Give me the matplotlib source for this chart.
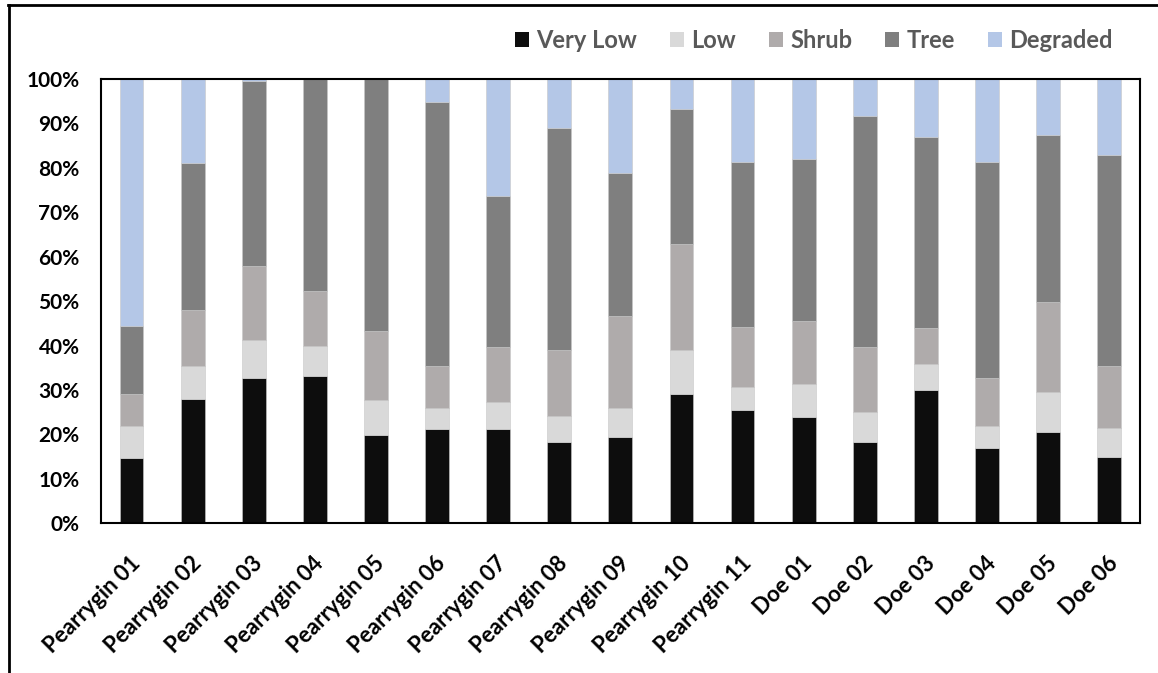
import numpy as np
import matplotlib.pyplot as plt
import matplotlib.transforms as mtransforms
from matplotlib.lines import Line2D
from matplotlib.patches import Patch

sites = ['Pearrygin 01', 'Pearrygin 02', 'Pearrygin 03', 'Pearrygin 04', 'Pearrygin 05',
         'Pearrygin 06', 'Pearrygin 07', 'Pearrygin 08', 'Pearrygin 09', 'Pearrygin 10',
         'Pearrygin 11', 'Doe 01', 'Doe 02', 'Doe 03', 'Doe 04', 'Doe 05', 'Doe 06']

very_low = [14.7, 28.0, 32.8, 33.2, 19.9, 21.3, 21.3, 18.3, 19.4, 29.1, 25.5, 24.0, 18.3, 29.9, 16.9, 20.5, 14.9]
low      = [7.2, 7.3, 8.4, 6.7, 7.8, 4.6, 5.9, 5.9, 6.5, 10.0, 5.1, 7.3, 6.7, 5.9, 5.1, 9.0, 6.5]
shrub    = [7.2, 12.6, 16.7, 12.3, 15.5, 9.4, 12.4, 14.9, 20.8, 23.7, 13.5, 14.2, 14.6, 8.1, 10.6, 20.2, 14.1]
tree     = [15.3, 33.3, 41.7, 47.8, 56.8, 59.6, 34.1, 49.8, 32.2, 30.5, 37.2, 36.5, 52.1, 43.1, 48.7, 37.6, 47.4]
degraded = [55.6, 18.8, 0.4, 0.0, 0.0, 5.1, 26.3, 11.1, 21.1, 6.7, 18.7, 18.0, 8.3, 13.0, 18.7, 12.7, 17.1]

series = [('Very Low', very_low, '#0d0d0d'),
          ('Low', low, '#d9d9d9'),
          ('Shrub', shrub, '#afabab'),
          ('Tree', tree, '#7f7f7f'),
          ('Degraded', degraded, '#b4c7e7')]

plt.rcParams['font.family'] = ['Lato', 'DejaVu Sans']

fig = plt.figure(figsize=(11.58, 6.73), dpi=100)
W, H = 1158, 673
ax = fig.add_axes([101 / W, 1 - 523.3 / H, (1139.7 - 101) / W, (523.3 - 79) / H])

x = np.arange(len(sites))
vals = np.array([s[1] for s in series], dtype=float)
vals = vals / vals.sum(axis=0) * 100
bottom = np.zeros(len(sites))
for (name, _, color), v in zip(series, vals):
    ax.bar(x, v, 0.39, bottom=bottom, color=color, edgecolor='#c8c8c8', linewidth=0.4, label=name)
    bottom += v

ax.set_xlim(-0.5, len(sites) - 0.5)
ax.set_ylim(0, 100)
ax.set_yticks(np.arange(0, 101, 10))
ax.set_yticklabels([f'{t}%' for t in range(0, 101, 10)], fontsize=15, fontweight='bold')
ax.tick_params(axis='y', length=0, pad=15.5)
ax.tick_params(axis='x', length=0, pad=21)
ax.set_xticks(x)
ax.set_xticklabels(sites, fontsize=16, fontweight='bold', rotation=45,
                   ha='right', va='top', rotation_mode='anchor')
offset = mtransforms.ScaledTranslation(-2 / 100, 0, fig.dpi_scale_trans)
for lab in ax.get_xticklabels():
    lab.set_transform(lab.get_transform() + offset)
for sp in ax.spines.values():
    sp.set_color('black')
    sp.set_linewidth(1.5)

handles = [Patch(facecolor=c) for _, _, c in series]
fig.legend(handles, [n for n, _, _ in series], loc='center right',
           bbox_to_anchor=(1134 / W, 1 - 40 / H), ncol=5, frameon=False,
           handlelength=0.6, handleheight=0.6, handletextpad=0.3, columnspacing=1.4,
           prop={'size': 17, 'weight': 'bold'}, labelcolor='#595959')

# outer frame (top and left edges visible)
fig.add_artist(Line2D([8 / W, 1], [1 - 5 / H, 1 - 5 / H], color='black', linewidth=2, transform=fig.transFigure))
fig.add_artist(Line2D([8.5 / W, 8.5 / W], [0, 1 - 5 / H], color='black', linewidth=2, transform=fig.transFigure))

fig.savefig('out.png', dpi=100)
